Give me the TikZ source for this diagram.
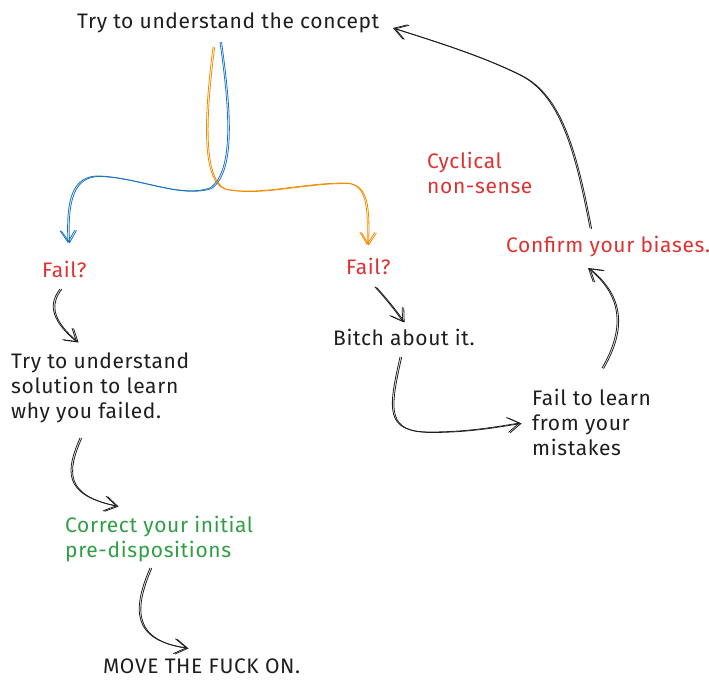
\documentclass[tikz,border=0pt]{standalone}
\usepackage{fontspec}
\setmainfont[LetterSpace=3]{Fira Sans}
\usetikzlibrary{arrows.meta}
\definecolor{ink}{HTML}{1E1E1E}
\definecolor{exblue}{HTML}{1971C2}
\definecolor{exorange}{HTML}{F08C00}
\definecolor{exred}{HTML}{E03131}
\definecolor{exgreen}{HTML}{2F9E44}
\tikzset{
  txt/.style={anchor=base west, inner sep=0pt, align=left, text=ink,
    font=\fontsize{21}{25}\selectfont},
  redtxt/.style={txt, text=exred},
  greentxt/.style={txt, text=exgreen},
  sk/.style={draw=ink, line width=0.8pt, line cap=round, line join=round,
    -{Straight Barb[length=12pt,width=15pt,line width=0.8pt]}},
}
\begin{document}
\begin{tikzpicture}[x=1pt,y=-1pt]
\useasboundingbox (0,0) rectangle (709,691);
% texts (anchor = baseline of the last line)
\node[txt] (concept) at (77,28) {Try to understand the concept};
\node[redtxt] (failL) at (42,277) {Fail?};
\node[redtxt] (failR) at (346,274) {Fail?};
\node[redtxt] (cyc) at (427,193) {Cyclical\\non-sense};
\node[redtxt] (confirm) at (506,252) {Confirm your biases.};
\node[txt] (bitch) at (333,345) {Bitch about it.};
\node[txt] (failto) at (532,455) {Fail to learn\\from your\\mistakes};
\node[txt] (trysol) at (11,418) {Try to understand\\solution to learn\\why you failed.};
\node[greentxt] (correct) at (65,557) {Correct your initial\\pre-dispositions};
\node[txt] (move) at (103,673) {MOVE THE FUCK ON.};
% arrows
\foreach \s in {0,1.6}{
\begin{scope}[shift={(\s,\s*0.3)}]
\draw[sk, draw=exblue] (220,42) .. controls (228,100) and (236,170) .. (210,188)
  .. controls (180,198) and (140,178) .. (100,176)
  .. controls (72,175) and (66,200) .. (68,243);
\draw[sk, draw=exorange] (213,47) .. controls (205,110) and (200,180) .. (225,189)
  .. controls (260,196) and (300,183) .. (345,183)
  .. controls (368,183) and (368,210) .. (367,245);
\draw[sk] (60,289) .. controls (50,302) and (48,318) .. (77,342);
\draw[sk] (80,438) .. controls (66,470) and (62,495) .. (117,506);
\draw[sk] (150,568) .. controls (132,610) and (132,640) .. (187,648);
\draw[sk] (375,287) .. controls (385,298) and (395,310) .. (403,322);
\draw[sk] (400,357) .. controls (388,410) and (385,432) .. (430,432)
  .. controls (470,432) and (500,426) .. (520,423);
\draw[sk] (602,368) .. controls (630,320) and (615,290) .. (588,268);
\draw[sk] (590,228) .. controls (575,150) and (560,95) .. (520,75)
  .. controls (480,55) and (430,40) .. (393,28);
\end{scope}}
\end{tikzpicture}
\end{document}
